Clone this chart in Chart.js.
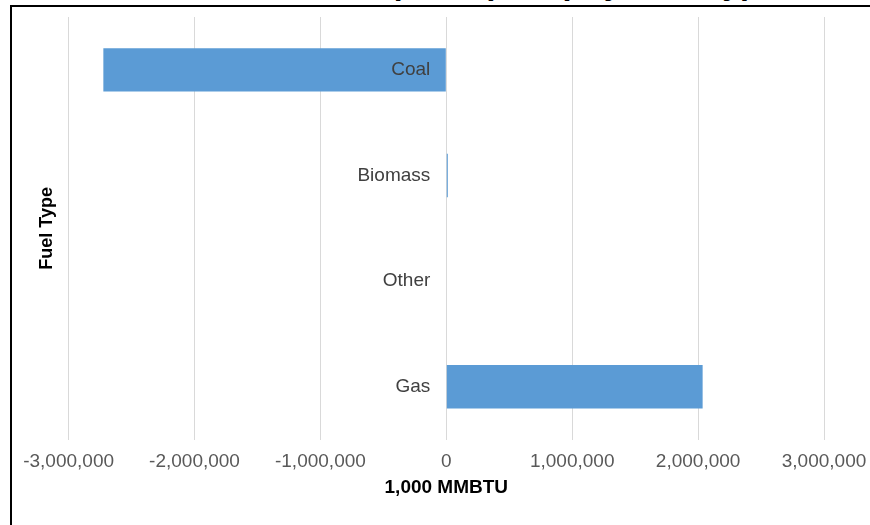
<!DOCTYPE html>
<html>
<head>
<meta charset="utf-8">
<script src="https://cdn.jsdelivr.net/npm/chart.js@4/dist/chart.umd.min.js"></script>
<style>
  html, body { margin: 0; padding: 0; width: 870px; height: 525px; overflow: hidden; background: #fff; }
  #frame { position: absolute; left: 10px; top: 5px; width: 900px; height: 540px; border: 2px solid #000; background: #fff; }
  #title { position: absolute; left: 296px; top: -33px; font: bold 32px "Liberation Sans", Arial, sans-serif; line-height: 32px; white-space: nowrap; color: #000; }
  canvas { display: block; }
</style>
</head>
<body>
<div id="frame"><canvas id="chart" width="900" height="525"></canvas></div>
<div id="title">Net Imports (2019) by Fuel Type</div>
<script>
// Fuel categories, top to bottom
const fuelTypes = ['Coal', 'Biomass', 'Other', 'Gas'];
// Net imports in 1,000 MMBTU (negative = net exports)
const netImports = [-2724000, 12000, 0, 2036000];
// Value-axis tick marks
const xTicks = [-3000000, -2000000, -1000000, 0, 1000000, 2000000, 3000000];

const FONT = '"Liberation Sans", Arial, sans-serif';

// Category names sit just left of the zero line, painted over the bars
const categoryLabels = {
  id: 'categoryLabels',
  afterDatasetsDraw(chart) {
    const { ctx, scales: { x, y } } = chart;
    const x0 = x.getPixelForValue(0);
    ctx.save();
    ctx.font = '19px ' + FONT;
    ctx.fillStyle = '#404040';
    ctx.textAlign = 'right';
    ctx.textBaseline = 'middle';
    y.getLabels().forEach((label, i) => {
      ctx.fillText(label, x0 - 16, y.getPixelForTick(i));
    });
    ctx.restore();
  }
};

new Chart(document.getElementById('chart'), {
  type: 'bar',
  data: {
    labels: fuelTypes,
    datasets: [{
      data: netImports,
      backgroundColor: '#5b9bd5',
      borderWidth: 0,
      categoryPercentage: 1,
      barPercentage: 0.41
    }]
  },
  options: {
    indexAxis: 'y',
    responsive: false,
    animation: false,
    events: [],
    layout: { padding: { left: 24, right: 88, top: 10, bottom: 2.6 } },
    plugins: { legend: { display: false }, tooltip: { enabled: false }, title: { display: false } },
    scales: {
      x: {
        type: 'linear',
        min: xTicks[0],
        max: xTicks[xTicks.length - 1],
        afterBuildTicks: (scale) => { scale.ticks = xTicks.map(v => ({ value: v })); },
        grid: { color: '#d9d9d9', lineWidth: 1, drawTicks: false },
        border: { display: false },
        ticks: {
          padding: 10.6,
          color: '#595959',
          font: { family: FONT, size: 19 },
          maxRotation: 0,
          callback: (v) => Number(v).toLocaleString('en-US')
        },
        title: {
          display: true,
          text: '1,000 MMBTU',
          color: '#000',
          font: { family: FONT, size: 19, weight: 'bold' },
          padding: { top: -7, bottom: 30 }
        }
      },
      y: {
        type: 'category',
        position: { x: 0 },
        grid: { display: false, drawTicks: false },
        border: { display: false },
        ticks: { display: false }
      },
      yTitle: {
        type: 'category',
        axis: 'y',
        position: 'left',
        grid: { display: false, drawTicks: false },
        border: { display: false },
        ticks: { display: false },
        title: {
          display: true,
          text: 'Fuel Type',
          color: '#000',
          font: { family: FONT, size: 18, weight: 'bold' },
          padding: { top: 0, bottom: 11 }
        }
      }
    }
  },
  plugins: [categoryLabels]
});
</script>
</body>
</html>
